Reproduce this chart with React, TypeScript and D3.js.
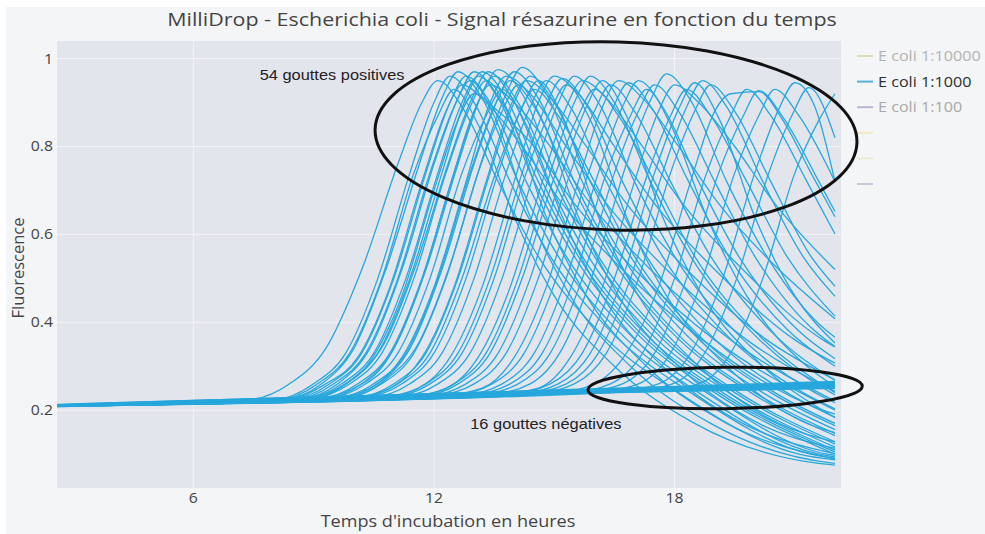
import React from "react";
import * as d3 from "d3";

const TITLE = "MilliDrop - Escherichia coli - Signal résazurine en fonction du temps";
const X_LABEL = "Temps d'incubation en heures";
const Y_LABEL = "Fluorescence";
const X_TICKS = [6, 12, 18];
const Y_TICKS = [0.2, 0.4, 0.6, 0.8, 1];
const X_DOMAIN = [2.6, 22.15];
const Y_DOMAIN = [0.023, 1.04];

const LEGEND_LABELS = ["E coli 1:10000", "E coli 1:1000", "E coli 1:100", "", "", ""];
const LEGEND_LINE_COLORS = ["#dcdcbc", "#4fb3dc", "#bdb6d2", "#f1e7c4", "#ebebcc", "#cbc5dc"];
const LEGEND_TEXT_COLORS = ["#b3b3b3", "#2f2f2f", "#a9a9a9", "", "", ""];

const ANNOT_TEXTS = ["54 gouttes positives", "16 gouttes négatives"];
const ANNOT_T = [9.46, 14.79];
const ANNOT_Y = [0.963, 0.168];

// ellipses in data units: centre time, centre fluorescence, half-width (h), half-height, tilt (deg)
const ELL_CT = [16.54, 19.26];
const ELL_CY = [0.824, 0.2505];
const ELL_RT = [6.01, 3.42];
const ELL_RY = [0.214, 0.047];
const ELL_TILT = [1.6, -0.8];

const NEG_TIMES = [2.6, 6, 10, 14, 18, 22];
const NEG_DROPS = [
  [0.21, 0.219, 0.228, 0.237, 0.246, 0.255],
  [0.211, 0.22, 0.229, 0.239, 0.249, 0.259],
  [0.209, 0.218, 0.227, 0.236, 0.244, 0.252],
  [0.212, 0.221, 0.231, 0.241, 0.251, 0.262],
  [0.21, 0.22, 0.229, 0.238, 0.248, 0.257],
  [0.208, 0.217, 0.226, 0.235, 0.243, 0.25],
  [0.211, 0.221, 0.23, 0.24, 0.25, 0.261],
  [0.21, 0.219, 0.228, 0.238, 0.247, 0.256],
  [0.212, 0.222, 0.232, 0.243, 0.254, 0.265],
  [0.209, 0.218, 0.227, 0.237, 0.246, 0.254],
  [0.211, 0.22, 0.23, 0.239, 0.249, 0.258],
  [0.21, 0.218, 0.227, 0.236, 0.245, 0.253],
  [0.213, 0.222, 0.232, 0.242, 0.252, 0.263],
  [0.209, 0.219, 0.228, 0.237, 0.247, 0.256],
  [0.211, 0.221, 0.23, 0.24, 0.249, 0.259],
  [0.21, 0.22, 0.229, 0.239, 0.248, 0.258],
];

// [time (h), fluorescence] points read along each positive drop
const POS_DROPS: [number, number][][] = [
  [[2.6,.21],[7.4,.224],[8.4,.26],[9.3,.34],[10.2,.52],[11.1,.76],[11.7,.9],[12.1,.95],[12.7,.89],[13.6,.72],[14.6,.55],[16.1,.38],[18.1,.24],[21.1,.1],[22,.087]],
  [[2.6,.21],[8,.223],[9,.26],[9.8,.33],[10.6,.5],[11.4,.74],[12,.9],[12.4,.96],[13,.9],[13.9,.72],[14.9,.55],[16.4,.38],[18.4,.24],[21.4,.1],[22,.091]],
  [[2.6,.21],[8.1,.223],[9.1,.26],[9.9,.33],[10.7,.5],[11.5,.74],[12.1,.87],[12.5,.93],[13.1,.85],[14,.64],[15,.46],[16.5,.3],[18.5,.17],[21.5,.08],[22,.075]],
  [[2.6,.211],[8.2,.224],[9.2,.26],[10,.34],[10.8,.52],[11.6,.75],[12.2,.91],[12.6,.97],[13.2,.91],[14.1,.72],[15.1,.55],[16.6,.38],[18.6,.24],[21.6,.1],[22,.094]],
  [[2.6,.21],[8.3,.224],[9.3,.26],[10.1,.32],[10.9,.48],[11.7,.72],[12.3,.88],[12.7,.94],[13.3,.9],[14.2,.8],[15.2,.67],[16.7,.52],[18.7,.36],[21.7,.2],[22,.191]],
  [[2.6,.209],[8.4,.224],[9.4,.26],[10.2,.33],[11,.5],[11.8,.74],[12.4,.9],[12.8,.96],[13.4,.9],[14.3,.72],[15.3,.55],[16.8,.38],[18.8,.24],[21.8,.1],[22,.097]],
  [[2.6,.21],[8.5,.224],[9.5,.26],[10.3,.33],[11.1,.5],[11.9,.74],[12.5,.89],[12.9,.95],[13.5,.87],[14.4,.64],[15.4,.46],[16.9,.3],[18.9,.17],[21.9,.08],[22,.079]],
  [[2.6,.211],[8.6,.225],[9.6,.26],[10.4,.34],[11.2,.52],[12,.76],[12.6,.91],[13,.97],[13.6,.91],[14.5,.72],[15.5,.55],[17,.38],[19,.24],[22,.1]],
  [[2.6,.21],[8.6,.225],[9.6,.25],[10.4,.31],[11.2,.46],[12,.7],[12.6,.86],[13,.92],[13.6,.88],[14.5,.8],[15.5,.67],[17,.52],[19,.36],[22,.2]],
  [[2.6,.21],[8.7,.225],[9.7,.26],[10.5,.33],[11.3,.5],[12.1,.74],[12.7,.9],[13.1,.96],[13.7,.9],[14.6,.72],[15.6,.55],[17.1,.38],[19.1,.24],[22,.105]],
  [[2.6,.211],[8.8,.225],[9.8,.26],[10.6,.33],[11.4,.5],[12.2,.74],[12.8,.91],[13.2,.97],[13.8,.91],[14.7,.72],[15.7,.55],[17.2,.38],[19.2,.24],[22,.109]],
  [[2.6,.21],[8.9,.226],[9.9,.26],[10.7,.33],[11.5,.5],[12.3,.74],[12.9,.89],[13.3,.95],[13.9,.87],[14.8,.64],[15.8,.46],[17.3,.3],[19.3,.17],[22,.089]],
  [[2.6,.21],[8.95,.226],[9.95,.27],[10.75,.35],[11.55,.53],[12.35,.76],[12.95,.91],[13.35,.97],[13.95,.91],[14.85,.72],[15.85,.55],[17.35,.38],[19.35,.24],[22,.116]],
  [[2.6,.209],[9,.226],[10,.25],[10.8,.31],[11.6,.47],[12.4,.71],[13,.88],[13.4,.94],[14,.9],[14.9,.8],[15.9,.67],[17.4,.52],[19.4,.36],[22,.221]],
  [[2.6,.21],[9.1,.226],[10.1,.26],[10.9,.33],[11.7,.5],[12.5,.74],[13.1,.9],[13.5,.96],[14.1,.9],[15,.72],[16,.55],[17.5,.38],[19.5,.24],[22,.123]],
  [[2.6,.211],[9.2,.226],[10.2,.26],[11,.34],[11.8,.52],[12.6,.76],[13.2,.92],[13.6,.975],[14.2,.92],[15.1,.72],[16.1,.55],[17.6,.38],[19.6,.24],[22,.128]],
  [[2.6,.21],[9.3,.227],[10.3,.26],[11.1,.33],[11.9,.5],[12.7,.74],[13.3,.87],[13.7,.93],[14.3,.85],[15.2,.64],[16.2,.46],[17.7,.3],[19.7,.17],[22,.101]],
  [[2.6,.21],[9.4,.227],[10.4,.25],[11.2,.32],[12,.48],[12.8,.72],[13.4,.9],[13.8,.96],[14.4,.92],[15.3,.8],[16.3,.67],[17.8,.52],[19.8,.36],[22,.243]],
  [[2.6,.209],[9.5,.227],[10.5,.26],[11.3,.33],[12.1,.5],[12.9,.74],[13.5,.89],[13.9,.95],[14.5,.89],[15.4,.72],[16.4,.55],[17.9,.38],[19.9,.24],[22,.142]],
  [[2.6,.21],[9.6,.227],[10.6,.26],[11.4,.34],[12.2,.52],[13,.76],[13.6,.91],[14,.97],[14.6,.91],[15.5,.72],[16.5,.55],[18,.38],[20,.24],[22,.147]],
  [[2.6,.211],[9.7,.228],[10.7,.26],[11.5,.33],[12.3,.5],[13.1,.74],[13.7,.88],[14.1,.94],[14.7,.86],[15.6,.64],[16.6,.46],[18.1,.3],[20.1,.17],[22,.113]],
  [[2.6,.21],[9.8,.228],[10.8,.27],[11.6,.35],[12.4,.53],[13.2,.77],[13.8,.92],[14.2,.98],[14.8,.92],[15.7,.72],[16.7,.55],[18.2,.38],[20.2,.24],[22,.156]],
  [[2.6,.21],[9.9,.228],[10.9,.25],[11.7,.32],[12.5,.48],[13.3,.72],[13.9,.89],[14.3,.95],[14.9,.91],[15.8,.8],[16.8,.67],[18.3,.52],[20.3,.36],[22,.269]],
  [[2.6,.211],[10,.228],[11,.26],[11.8,.33],[12.6,.5],[13.4,.74],[14,.9],[14.4,.96],[15,.9],[15.9,.72],[16.9,.55],[18.4,.38],[20.4,.24],[22,.165]],
  [[2.6,.21],[10.1,.228],[11.1,.26],[11.9,.33],[12.7,.5],[13.5,.73],[14.1,.87],[14.5,.93],[15.1,.87],[16,.72],[17,.55],[18.5,.38],[20.5,.24],[22,.17]],
  [[2.6,.209],[10.2,.229],[11.2,.26],[12,.33],[12.8,.5],[13.6,.74],[14.2,.89],[14.6,.95],[15.2,.87],[16.1,.64],[17.1,.46],[18.6,.3],[20.6,.17],[22,.128]],
  [[2.6,.21],[10.4,.229],[11.4,.26],[12.2,.33],[13,.5],[13.8,.74],[14.4,.89],[14.8,.95],[15.4,.89],[16.3,.72],[17.3,.55],[18.8,.38],[20.8,.24],[22,.184]],
  [[2.6,.211],[10.6,.229],[11.6,.25],[12.4,.32],[13.2,.48],[14,.72],[14.6,.9],[15,.96],[15.6,.92],[16.5,.8],[17.5,.67],[19,.52],[21,.36],[22,.307]],
  [[2.6,.21],[10.8,.23],[11.8,.26],[12.6,.33],[13.4,.5],[14.2,.74],[14.8,.895],[15.2,.955],[15.8,.895],[16.7,.72],[17.7,.55],[19.2,.38],[21.2,.24],[22,.203]],
  [[2.6,.21],[10.9,.23],[11.9,.26],[12.7,.33],[13.5,.5],[14.3,.74],[14.9,.88],[15.3,.94],[15.9,.86],[16.8,.64],[17.8,.46],[19.3,.3],[21.3,.17],[22,.149]],
  [[2.6,.209],[11.1,.23],[12.1,.26],[12.9,.33],[13.7,.5],[14.5,.74],[15.1,.9],[15.5,.96],[16.1,.9],[17,.72],[18,.55],[19.5,.38],[21.5,.24],[22,.217]],
  [[2.6,.21],[11.3,.231],[12.3,.25],[13.1,.32],[13.9,.48],[14.7,.72],[15.3,.89],[15.7,.95],[16.3,.91],[17.2,.8],[18.2,.67],[19.7,.52],[21.7,.36],[22,.344]],
  [[2.6,.211],[11.5,.231],[12.5,.26],[13.3,.33],[14.1,.5],[14.9,.74],[15.5,.9],[15.9,.96],[16.5,.9],[17.4,.72],[18.4,.55],[19.9,.38],[21.9,.24],[22,.235]],
  [[2.6,.21],[11.6,.231],[12.6,.26],[13.4,.33],[14.2,.5],[15,.73],[15.6,.87],[16,.93],[16.6,.87],[17.5,.72],[18.5,.55],[20,.38],[22,.24]],
  [[2.6,.21],[11.8,.232],[12.8,.26],[13.6,.33],[14.4,.5],[15.2,.74],[15.8,.89],[16.2,.95],[16.8,.87],[17.7,.64],[18.7,.46],[20.2,.3],[22,.183]],
  [[2.6,.209],[12,.233],[13,.26],[13.8,.33],[14.6,.5],[15.4,.74],[16,.88],[16.4,.94],[17,.88],[17.9,.72],[18.9,.55],[20.4,.38],[22,.268]],
  [[2.6,.21],[12.2,.233],[13.2,.25],[14,.32],[14.8,.48],[15.6,.72],[16.2,.89],[16.6,.95],[17.2,.91],[18.1,.8],[19.1,.67],[20.6,.52],[22,.408]],
  [[2.6,.211],[12.45,.234],[13.45,.26],[14.25,.33],[15.05,.5],[15.85,.74],[16.45,.885],[16.85,.945],[17.45,.885],[18.35,.72],[19.35,.55],[20.85,.38],[22,.3]],
  [[2.6,.21],[12.7,.234],[13.7,.26],[14.5,.33],[15.3,.5],[16.1,.74],[16.7,.89],[17.1,.95],[17.7,.89],[18.6,.72],[19.6,.55],[21.1,.38],[22,.317]],
  [[2.6,.21],[12.9,.235],[13.9,.26],[14.7,.33],[15.5,.5],[16.3,.74],[16.9,.87],[17.3,.93],[17.9,.85],[18.8,.64],[19.8,.46],[21.3,.3],[22,.254]],
  [[2.6,.209],[13.1,.235],[14.1,.26],[14.9,.33],[15.7,.5],[16.5,.74],[17.1,.88],[17.5,.94],[18.1,.88],[19,.72],[20,.55],[21.5,.38],[22,.345]],
  [[2.6,.21],[13.4,.236],[14.4,.26],[15.2,.34],[16,.52],[16.8,.76],[17.4,.905],[17.8,.965],[18.4,.905],[19.3,.72],[20.3,.55],[21.8,.38],[22,.366]],
  [[2.6,.211],[13.6,.236],[14.6,.25],[15.4,.32],[16.2,.48],[17,.72],[17.6,.88],[18,.94],[18.6,.9],[19.5,.8],[20.5,.67],[22,.52]],
  [[2.6,.21],[13.9,.237],[14.9,.26],[15.7,.33],[16.5,.5],[17.3,.73],[17.9,.87],[18.3,.93],[18.9,.87],[19.8,.72],[20.8,.55],[22,.414]],
  [[2.6,.21],[14.1,.237],[15.1,.26],[15.9,.33],[16.7,.5],[17.5,.74],[18.1,.885],[18.5,.945],[19.1,.865],[20,.64],[21,.46],[22,.353]],
  [[2.6,.209],[14.3,.238],[15.3,.26],[16.1,.33],[16.9,.5],[17.7,.74],[18.3,.89],[18.7,.95],[19.3,.89],[20.2,.72],[21.2,.55],[22,.459]],
  [[2.6,.21],[14.5,.238],[15.5,.26],[16.3,.33],[17.1,.5],[17.9,.74],[18.5,.88],[18.9,.94],[19.5,.88],[20.4,.72],[21.4,.55],[22,.482]],
  [[2.6,.211],[15,.239],[16,.26],[16.8,.33],[17.6,.48],[18.4,.72],[19,.88],[19.4,.92],[20.1,.925],[20.7,.86],[21.4,.74],[22,.64]],
  [[2.6,.21],[15.4,.24],[16.4,.26],[17.2,.33],[18,.5],[18.8,.74],[19.4,.87],[19.8,.93],[20.4,.87],[21.3,.72],[22,.601]],
  [[2.6,.21],[15.7,.241],[16.7,.26],[17.5,.33],[18.3,.5],[19.1,.74],[19.7,.867],[20.1,.927],[20.7,.867],[21.6,.72],[22,.652]],
  [[2.6,.209],[16.1,.242],[17.1,.26],[17.9,.33],[18.7,.5],[19.5,.74],[20.1,.87],[20.5,.93],[21.1,.87],[22,.72]],
  [[2.6,.21],[16.6,.243],[17.6,.26],[18.4,.33],[19.2,.5],[20,.74],[20.6,.885],[21,.945],[21.5,.89],[22,.72]],
  [[2.6,.211],[16.95,.244],[17.95,.26],[18.75,.33],[19.55,.5],[20.35,.74],[20.95,.875],[21.35,.934],[22,.82]],
  [[2.6,.21],[17.6,.245],[18.6,.26],[19.4,.33],[20.2,.5],[21,.74],[21.6,.86],[22,.92]],
];

const W = 985;
const H = 534;
const PLOT = { left: 57, right: 841, top: 41, bottom: 488 };
const LINE_COLOR = "#27a7dc";
const FONT = "'Open Sans', 'Noto Sans', sans-serif";
const ANNOT_FONT = "'Liberation Sans', Arial, sans-serif";
const SX = 1.13; // the reference picture is slightly stretched horizontally

function T(props: {
  x: number;
  y: number;
  anchor?: string;
  size: number;
  fill: string;
  family?: string;
  children: React.ReactNode;
}) {
  return (
    <text
      transform={`translate(${props.x},${props.y}) scale(${SX},1)`}
      textAnchor={props.anchor || "start"}
      fontFamily={props.family || FONT}
      fontSize={props.size}
      fill={props.fill}
    >
      {props.children}
    </text>
  );
}

export default function App() {
  const x = d3.scaleLinear().domain(X_DOMAIN).range([PLOT.left, PLOT.right]);
  const y = d3.scaleLinear().domain(Y_DOMAIN).range([PLOT.bottom, PLOT.top]);

  const line = d3
    .line<[number, number]>()
    .x((d) => x(d[0]))
    .y((d) => y(d[1]))
    .curve(d3.curveMonotoneX);

  const negSeries: [number, number][][] = NEG_DROPS.map((vals) =>
    vals.map((v, i) => [NEG_TIMES[i], v] as [number, number])
  );

  const pxPerHour = x(1) - x(0);
  const pxPerUnit = y(0) - y(1);

  return (
    <svg
      width={W}
      height={H}
      style={{ position: "absolute", left: 0, top: 0, display: "block" }}
    >
      <defs>
        <clipPath id="plotclip">
          <rect
            x={PLOT.left}
            y={PLOT.top}
            width={PLOT.right - PLOT.left}
            height={PLOT.bottom - PLOT.top}
          />
        </clipPath>
      </defs>
      <rect x={0} y={0} width={W} height={H} fill="#ffffff" />
      <rect x={6} y={7} width={W - 6} height={H - 7} fill="#f4f5f7" />
      <rect
        x={PLOT.left}
        y={PLOT.top}
        width={PLOT.right - PLOT.left}
        height={PLOT.bottom - PLOT.top}
        fill="#e3e5ed"
      />
      {X_TICKS.map((t) => (
        <line
          key={"gx" + t}
          x1={x(t)}
          x2={x(t)}
          y1={PLOT.top}
          y2={PLOT.bottom}
          stroke="#f2f3f7"
          strokeWidth={1}
        />
      ))}
      {Y_TICKS.map((t) => (
        <line
          key={"gy" + t}
          x1={PLOT.left}
          x2={PLOT.right}
          y1={y(t)}
          y2={y(t)}
          stroke="#f2f3f7"
          strokeWidth={1}
        />
      ))}

      <g clipPath="url(#plotclip)" fill="none" stroke={LINE_COLOR} strokeWidth={1.3}>
        {negSeries.map((s, i) => (
          <path key={"n" + i} d={line(s) || ""} strokeWidth={1.6} />
        ))}
        {POS_DROPS.map((s, i) => (
          <path key={"p" + i} d={line(s) || ""} />
        ))}
      </g>

      {X_TICKS.map((t) => (
        <T key={"tx" + t} x={x(t)} y={503} anchor="middle" size={14} fill="#444">
          {t}
        </T>
      ))}
      {Y_TICKS.map((t) => (
        <T key={"ty" + t} x={PLOT.left - 4} y={y(t) + 5} anchor="end" size={14} fill="#444">
          {d3.format("~g")(t)}
        </T>
      ))}

      <T x={502} y={26} anchor="middle" size={19} fill="#444">
        {TITLE}
      </T>
      <T x={448} y={527} anchor="middle" size={16} fill="#444">
        {X_LABEL}
      </T>
      <text
        transform={`translate(24, 268) rotate(-90)`}
        textAnchor="middle"
        fontFamily={FONT}
        fontSize={16.5}
        fill="#444"
      >
        {Y_LABEL}
      </text>

      {LEGEND_LABELS.map((lab, i) => {
        const cy = 56 + i * 25.6;
        return (
          <g key={"lg" + i}>
            <line
              x1={857}
              x2={873}
              y1={cy}
              y2={cy}
              stroke={LEGEND_LINE_COLORS[i]}
              strokeWidth={2}
            />
            {lab && (
              <T x={878} y={cy + 5} size={14.3} fill={LEGEND_TEXT_COLORS[i]}>
                {lab}
              </T>
            )}
          </g>
        );
      })}

      {ELL_CT.map((ct, i) => (
        <ellipse
          key={"el" + i}
          cx={x(ct)}
          cy={y(ELL_CY[i])}
          rx={ELL_RT[i] * pxPerHour}
          ry={ELL_RY[i] * pxPerUnit}
          transform={`rotate(${ELL_TILT[i]} ${x(ct)} ${y(ELL_CY[i])})`}
          fill="none"
          stroke="#111"
          strokeWidth={3}
        />
      ))}

      {ANNOT_TEXTS.map((txt, i) => (
        <T
          key={"an" + i}
          x={x(ANNOT_T[i])}
          y={y(ANNOT_Y[i]) + 5}
          anchor="middle"
          size={14.5}
          fill="#222"
          family={ANNOT_FONT}
        >
          {txt}
        </T>
      ))}
    </svg>
  );
}
